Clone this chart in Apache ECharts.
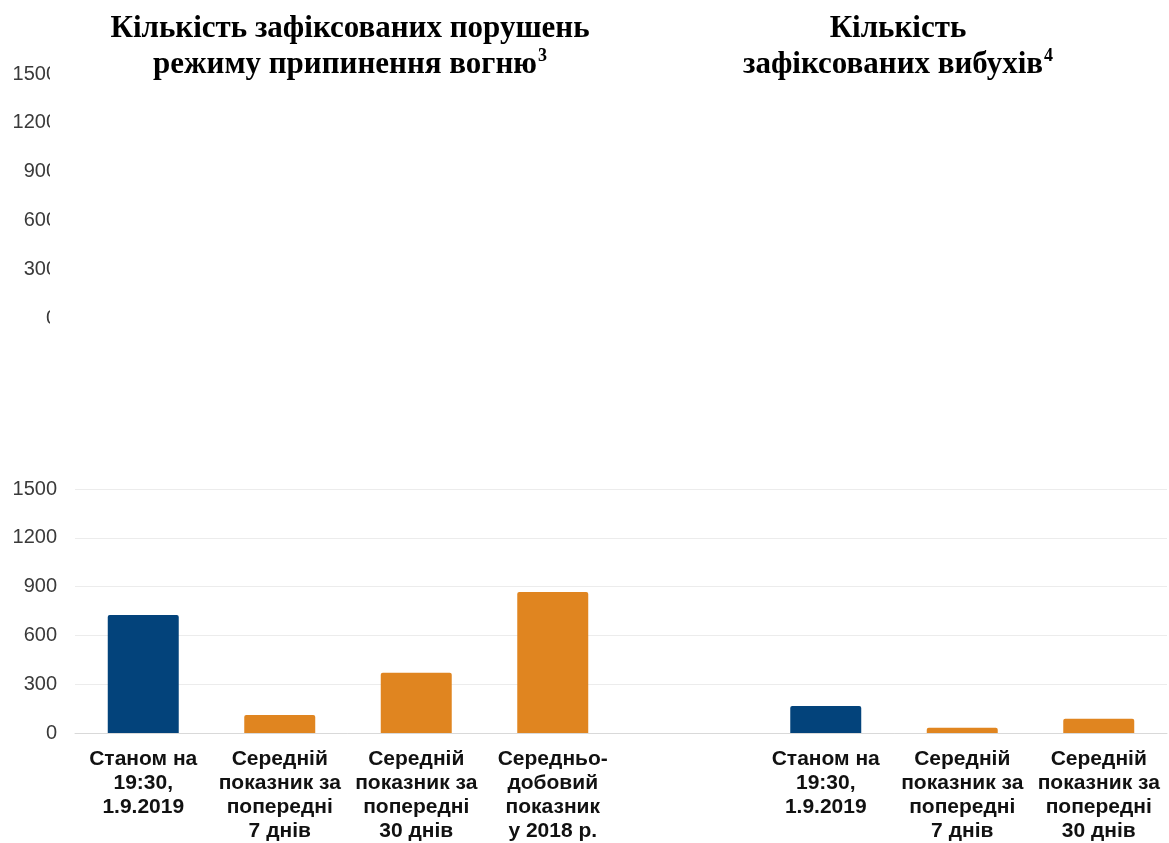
<!DOCTYPE html>
<html>
<head>
<meta charset="utf-8">
<script src="https://cdn.jsdelivr.net/npm/echarts@6/dist/echarts.min.js"></script>
<style>
html,body{margin:0;padding:0;background:#fff;}
#chart{width:1169px;height:843px;}
</style>
</head>
<body>
<div id="chart"></div>
<script>
// ---- data ----
var categories = [
  'Станом на\n19:30,\n1.9.2019',
  'Середній\nпоказник за\nпопередні\n7 днів',
  'Середній\nпоказник за\nпопередні\n30 днів',
  'Середньо-\nдобовий\nпоказник\nу 2018 р.',
  '',
  'Станом на\n19:30,\n1.9.2019',
  'Середній\nпоказник за\nпопередні\n7 днів',
  'Середній\nпоказник за\nпопередні\n30 днів'
];
var ceasefireViolations = [725, 111, 371, 867];
var explosions = [166, 33, 88];
var yTicks = [0, 300, 600, 900, 1200, 1500];
var titleLeft = 'Кількість зафіксованих порушень\nрежиму припинення вогню';
var titleLeftNote = '3';
var titleRight = 'Кількість\nзафіксованих вибухів';
var titleRightNote = '4';

var BLUE = '#03437b';
var ORANGE = '#e08520';

function bars(values) {
  return values.map(function (v, i) {
    return { value: v, itemStyle: { color: i === 0 ? BLUE : ORANGE } };
  });
}
var seriesData = bars(ceasefireViolations).concat(['-']).concat(bars(explosions));

var titleRich = {
  t: { fontFamily: 'Liberation Serif', fontWeight: 'bold', fontSize: 31, color: '#000', lineHeight: 36 },
  sup: { fontFamily: 'Liberation Serif', fontWeight: 'bold', fontSize: 18, color: '#000', lineHeight: 36, verticalAlign: 'top', padding: [0, 0, 0, 1] }
};
function richTitle(text, note) {
  var lines = text.split('\n');
  return lines.map(function (l, i) {
    return '{t|' + l + '}' + (i === lines.length - 1 ? '{sup|' + note + '}' : '');
  }).join('\n');
}

var yLabelStyle = { fontFamily: 'Liberation Sans', fontSize: 20, color: '#3a3a3a', margin: 18,
  formatter: function (v) { return yTicks.indexOf(v) >= 0 ? String(v) : ''; } };

var chart = echarts.init(document.getElementById('chart'), null, { renderer: 'canvas' });
chart.setOption({
  animation: false,
  backgroundColor: '#fff',
  title: [
    { text: richTitle(titleLeft, titleLeftNote), left: 350, top: 11, padding: 0, textAlign: 'center',
      textStyle: { rich: titleRich, align: 'center' } },
    { text: richTitle(titleRight, titleRightNote), left: 898, top: 11, padding: 0, textAlign: 'center',
      textStyle: { rich: titleRich, align: 'center' } }
  ],
  grid: [
    { left: 75, right: 2, top: 489, bottom: 110 },
    { left: 75, width: 10, top: 74, height: 244 }
  ],
  xAxis: [
    { type: 'category', gridIndex: 0, data: categories,
      axisLine: { lineStyle: { color: '#d9d9d9', width: 1 } },
      axisTick: { show: false },
      axisLabel: { interval: 0, margin: 14, fontFamily: 'Liberation Sans', fontWeight: 'bold', fontSize: 21, lineHeight: 24, color: '#111' } },
    { type: 'category', gridIndex: 1, data: [''], show: false }
  ],
  yAxis: [
    { type: 'value', gridIndex: 0, min: 0, max: 1500, interval: 300,
      axisLine: { show: false }, axisTick: { show: false },
      splitLine: { lineStyle: { color: '#ececec', width: 1 } },
      axisLabel: yLabelStyle },
    { type: 'value', gridIndex: 1, min: 0, max: 1500, interval: 300,
      axisLine: { show: false }, axisTick: { show: false }, splitLine: { show: false },
      axisLabel: yLabelStyle }
  ],
  graphic: [
    { type: 'rect', left: 50, top: 55, shape: { width: 20, height: 280 }, style: { fill: '#fff' }, z: 100 }
  ],
  series: [
    { type: 'bar', xAxisIndex: 0, yAxisIndex: 0, data: seriesData, barWidth: '52%',
      itemStyle: { borderRadius: [2, 2, 0, 0] } }
  ]
});
</script>
</body>
</html>
